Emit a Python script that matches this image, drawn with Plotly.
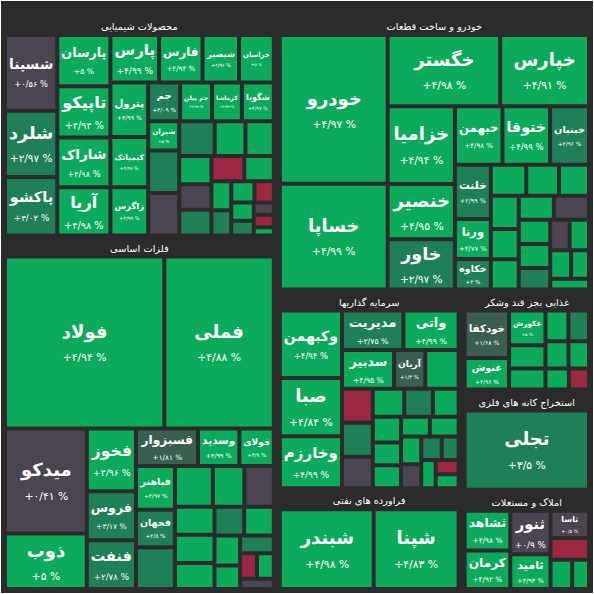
import plotly.graph_objects as go

# sector headers
sectors = ["محصولات شیمیایی", "فلزات اساسی", "خودرو و ساخت قطعات", "سرمایه گذاریها",
           "فراورده های نفتی", "غذایی بجز قند وشکر",
           "استخراج کانه های فلزی", "املاک و مستغلات"]

# named tiles per sector: name, change (%), size (market value weight)
chem_names = ["شسپنا", "شلرد", "پاکشو", "پارسان", "تاپیکو", "شاراک", "آریا", "پارس", "فارس",
              "شبصیر", "خراسان", "پترول", "کیمیاتک", "زاگرس", "جم", "جم پیلن", "کرماشا", "شگویا", "شیران"]
chem_change = [0.56, 2.97, 3.02, 5, 4.94, 4.98, 4.98, 4.99, 4.94, 4.96, 5, 4.99, 4.98, 4.99, 4.09, 4.99, 4.99, 4.97, 5]
chem_size = [4800, 4200, 3700, 3300, 3300, 3200, 3100, 2800, 2500, 2100, 2000, 2500, 2300, 2200, 1500, 1500, 1400, 1500, 1100]
chem_small_change = [3.0, 0.3, 2.8, 4.9, 4.9, 4.9, 0.4, 3.0, -1.2, 4.9, 4.9, 3.0, 4.9, -0.8, 4.9, 3.0, 0.2, -2.0, 4.9]
chem_small_size = [1600, 1600, 1500, 1300, 1200, 1100, 1000, 1000, 1000, 900, 700, 600, 600, 500, 500, 400, 300, 300, 200]

metal_names = ["فولاد", "فملی", "میدکو", "ذوب", "فخوز", "فروس", "فنفت", "فسبزوار", "وسدید", "فولای", "فباهنر", "فجهان"]
metal_change = [4.94, 4.88, 0.41, 5, 4.96, 3.17, 2.78, 1.81, 4.99, 4.9, 4.97, 2.5]
metal_size = [32000, 22000, 10000, 5300, 3600, 2800, 2800, 2700, 1800, 1500, 2000, 1700]
metal_small_change = [3.0, 4.9, 4.9, 0.3, 4.9, 4.9, 4.9, 3.0, 4.9, 4.9, 4.9, 3.0, -1.5, 4.9, 0.2]
metal_small_size = [1900, 1800, 1500, 1400, 1300, 1300, 1200, 1000, 1000, 900, 700, 700, 500, 500, 400]

auto_names = ["خودرو", "خساپا", "خگستر", "خپارس", "خزامیا", "خنصیر", "خاور", "خبهمن", "ختوقا",
              "خبنیان", "خلنت", "ورنا", "خکاوه"]
auto_change = [4.97, 4.99, 4.98, 4.91, 4.94, 4.95, 2.97, 4.98, 4.99, 2.96, 2.99, 4.77, 3]
auto_size = [19000, 13500, 9500, 7500, 6200, 4400, 4000, 3300, 3300, 2700, 2300, 1700, 1300]
auto_small_change = [4.9, 4.9, 4.9, 4.9, 4.9, 4.9, 4.9, 0.4, 4.9, 4.9, 3.0, 0.3, 4.9, 4.9, 4.9, 4.9]
auto_small_size = [1300, 1200, 1100, 1100, 1000, 1000, 1000, 1000, 900, 900, 800, 700, 700, 700, 600, 500]

inv_names = ["وکبهمن", "صبا", "وخارزم", "مدیریت", "واتی", "سدبیر", "آریان"]
inv_change = [4.94, 4.84, 4.99, 2.75, 4.99, 4.95, 1.3]
inv_size = [5200, 4500, 4000, 3000, 2700, 2500, 1500]
inv_small_change = [4.9, -1.5, 3.0, 0.3, 4.9, 3.0, 4.9, 4.9, 4.9, 4.9, 4.9, 4.9, 4.9, 0.4, 3.0, 3.0, 4.9, -1.0, 4.9]
inv_small_size = [1600, 1300, 1300, 1200, 1100, 1000, 900, 900, 800, 800, 700, 700, 700, 600, 600, 500, 500, 400, 400]

ref_names = ["شبندر", "شپنا"]
ref_change = [4.98, 4.83]
ref_size = [10500, 9500]

food_names = ["خودکفا", "غنوش", "غکورش"]
food_change = [1.68, 4.96, 5]
food_size = [3000, 2000, 1800]
food_small_change = [4.9, 4.9, 4.9, 3.0, 4.9, 4.9, 4.9, -1.5]
food_small_size = [1200, 1100, 1000, 900, 900, 800, 700, 600]

mine_names = ["تجلی"]
mine_change = [3.5]
mine_size = [14000]

estate_names = ["ثشاهد", "کرمان", "ثنور", "ثامید", "ثاسا"]
estate_change = [4.98, 4.92, 0.9, 4.94, 0.5]
estate_size = [2600, 2500, 2500, 2000, 1500]
estate_small_change = [-1.5, 4.9, 4.9]
estate_small_size = [1200, 900, 700]

BG = "#2b2b2b"


def tile_color(c):
    if c < 0:
        return "#9b2743"
    if c < 1:
        return "#4a4550"
    if c < 2.5:
        return "#3a5f50"
    if c < 4.5:
        return "#1f7f56"
    return "#0cab5b"


def fa(s):
    return s.translate(str.maketrans("0123456789.", "۰۱۲۳۴۵۶۷۸۹/"))


def fmt(c):
    v = ("%.2f" % c).rstrip("0").rstrip(".")
    return "+" + fa(v) + " %" if c >= 0 else "-" + fa(v.lstrip("-")) + " %"


groups = [
    (chem_names, chem_change, chem_size, chem_small_change, chem_small_size),
    (metal_names, metal_change, metal_size, metal_small_change, metal_small_size),
    (auto_names, auto_change, auto_size, auto_small_change, auto_small_size),
    (inv_names, inv_change, inv_size, inv_small_change, inv_small_size),
    (ref_names, ref_change, ref_size, [], []),
    (food_names, food_change, food_size, food_small_change, food_small_size),
    (mine_names, mine_change, mine_size, [], []),
    (estate_names, estate_change, estate_size, estate_small_change, estate_small_size),
]

ids, labels, parents, values, colors, texts = [], [], [], [], [], []
for sec, (nm, ch, sz, sch, ssz) in zip(sectors, groups):
    ids.append(sec); labels.append(sec); parents.append(""); values.append(0)
    colors.append(BG); texts.append("<b>" + sec + "</b>")
    for n, c, s in zip(nm, ch, sz):
        ids.append(sec + "/" + n); labels.append(n); parents.append(sec); values.append(s)
        colors.append(tile_color(c)); texts.append("<b>" + n + "</b><br><span style='font-size:0.6em'>" + fmt(c) + "</span>")
    for i, (c, s) in enumerate(zip(sch, ssz)):
        ids.append(sec + "/s" + str(i)); labels.append(""); parents.append(sec); values.append(s)
        colors.append(tile_color(c)); texts.append("")

fig = go.Figure(go.Treemap(
    ids=ids, labels=labels, parents=parents, values=values, text=texts,
    textinfo="text", branchvalues="remainder", sort=False,
    marker=dict(colors=colors, line=dict(width=2, color=BG), pad=dict(t=18, l=3, r=3, b=3)),
    textfont=dict(family="DejaVu Sans", color="white", size=18),
    textposition="middle center", pathbar=dict(visible=False),
    tiling=dict(packing="squarify", pad=2),
    hoverinfo="label+text",
))
fig.update_layout(width=594, height=594, margin=dict(l=0, r=0, t=0, b=0),
                  paper_bgcolor=BG, plot_bgcolor=BG)
fig.write_html("out.html", config={"displayModeBar": False},
               post_script="document.body.style.margin='0';document.body.style.background='#2b2b2b';document.body.style.overflow='hidden';")
